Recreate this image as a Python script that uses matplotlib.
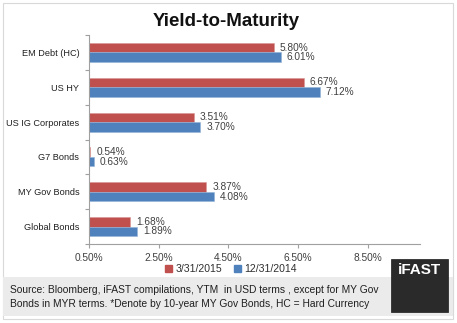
import matplotlib
matplotlib.use("Agg")
import matplotlib.pyplot as plt
from matplotlib.patches import Rectangle
import numpy as np

categories = ["EM Debt (HC)", "US HY", "US IG Corporates", "G7 Bonds", "MY Gov Bonds", "Global Bonds"]
ytm_2015 = [5.80, 6.67, 3.51, 0.54, 3.87, 1.68]
ytm_2014 = [6.01, 7.12, 3.70, 0.63, 4.08, 1.89]
series_labels = ["3/31/2015", "12/31/2014"]
xticks = [0.5, 2.5, 4.5, 6.5, 8.5]

RED = "#C0504D"
BLUE = "#4F81BD"
W, H = 457, 323
plt.rcParams['font.family'] = ['Liberation Sans', 'DejaVu Sans']
FS = 7.3

fig = plt.figure(figsize=(W/100, H/100), dpi=100)
fig.patch.set_facecolor("white")

def px(x0, y0, x1, y1):
    return (x0/W, 1-y1/H, (x1-x0)/W, (y1-y0)/H)

# outer border
b = px(3, 3, 453, 319)
fig.patches.append(Rectangle((b[0], b[1]), b[2], b[3], transform=fig.transFigure,
                             facecolor="none", edgecolor="#d9d9d9", lw=0.8, zorder=0))
# gray footer band
g = px(3, 277, 453, 316)
fig.patches.append(Rectangle((g[0], g[1]), g[2], g[3], transform=fig.transFigure,
                             facecolor="#ebebeb", edgecolor="none", zorder=1))
# iFAST box
k = px(391, 259, 448, 312)
fig.patches.append(Rectangle((k[0], k[1]), k[2], k[3], transform=fig.transFigure,
                             facecolor="#2a2a2a", edgecolor="#1a1a1a", lw=0.5, zorder=2))
fig.text((391+448)/2/W, 1-270/H, "iFAST", color="white", fontsize=11, fontweight="bold",
         ha="center", va="center", zorder=3)

ax = fig.add_axes(px(89, 35, 420, 244))
ax.set_zorder(5)
ax.set_facecolor("none")
y = np.arange(len(categories))
h = 0.275
ax.barh(y - h/2, [v - 0.5 for v in ytm_2015], left=0.5, height=h, color=RED,
        edgecolor="#d99694", lw=0.4, label=series_labels[0])
ax.barh(y + h/2, [v - 0.5 for v in ytm_2014], left=0.5, height=h, color=BLUE,
        edgecolor="#95b3d7", lw=0.4, label=series_labels[1])
for i in range(len(categories)):
    ax.text(ytm_2015[i] + 0.17, y[i] - h/2, f"{ytm_2015[i]:.2f}%", va="center", ha="left",
            fontsize=FS, color="#404040")
    ax.text(ytm_2014[i] + 0.17, y[i] + h/2, f"{ytm_2014[i]:.2f}%", va="center", ha="left",
            fontsize=FS, color="#404040")

ax.set_xlim(0.5, 10.0)
ax.set_ylim(len(categories) - 0.5, -0.5)
ax.set_xticks(xticks)
ax.set_xticklabels([f"{t:.2f}%" for t in xticks], fontsize=FS, color="#404040")
ax.set_yticks(y)
ax.set_yticklabels(categories, fontsize=6.6, color="#202020")
ax.set_yticks(np.arange(-0.5, len(categories), 1.0), minor=True)
ax.tick_params(axis="y", which="major", length=0, pad=7)
ax.tick_params(axis="y", which="minor", length=3, color="#a0a0a0", width=0.8, direction="out")
ax.tick_params(axis="x", length=3, color="#a0a0a0", width=0.8, direction="out", pad=3.5)
for s in ["top", "right"]:
    ax.spines[s].set_visible(False)
for s in ["left", "bottom"]:
    ax.spines[s].set_color("#a0a0a0")
    ax.spines[s].set_linewidth(0.8)

fig.text(226/W, 1-22/H, "Yield-to-Maturity", fontsize=13.5, fontweight="bold",
         ha="center", va="center", color="#111111")

handles = [Rectangle((0, 0), 1, 1, color=RED), Rectangle((0, 0), 1, 1, color=BLUE)]
fig.legend(handles, series_labels, loc="center", bbox_to_anchor=(231/W, 1-269/H), ncol=2,
           frameon=False, fontsize=7.6, handlelength=0.7, handleheight=0.7,
           handletextpad=0.3, columnspacing=1.1, labelcolor="#303030")

fig.text(10/W, 1-290/H, "Source: Bloomberg, iFAST compilations, YTM  in USD terms , except for MY Gov",
         fontsize=7.35, ha="left", va="center", color="#202020")
fig.text(10/W, 1-304/H, "Bonds in MYR terms. *Denote by 10-year MY Gov Bonds, HC = Hard Currency",
         fontsize=7.35, ha="left", va="center", color="#202020")

fig.savefig("out.png", dpi=100, facecolor="white")
